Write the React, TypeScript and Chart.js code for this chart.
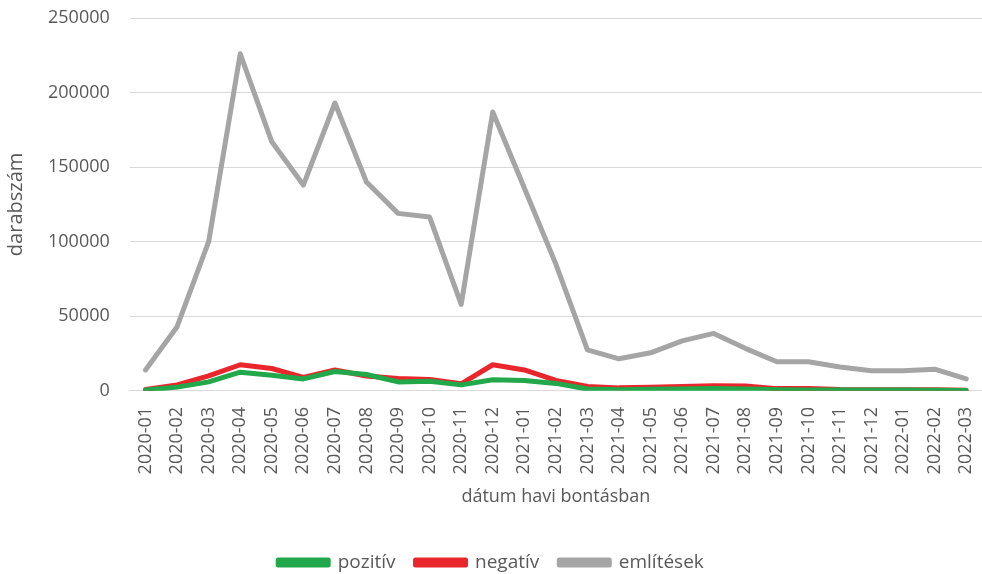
import React, { useEffect, useRef } from "react";
import { Chart, registerables } from "chart.js";

Chart.register(...registerables);

const categories = [
  "2020-01", "2020-02", "2020-03", "2020-04", "2020-05", "2020-06", "2020-07", "2020-08", "2020-09",
  "2020-10", "2020-11", "2020-12", "2021-01", "2021-02", "2021-03", "2021-04", "2021-05", "2021-06",
  "2021-07", "2021-08", "2021-09", "2021-10", "2021-11", "2021-12", "2022-01", "2022-02", "2022-03",
];

const pozitiv = [
  500, 2500, 6000, 12500, 10500, 8000, 13000, 11000, 6000, 6500, 4000, 7500, 7000, 5000,
  1200, 800, 1000, 1200, 1500, 1200, 700, 600, 500, 500, 500, 400, 300,
];

const negativ = [
  1000, 4000, 10000, 17500, 15000, 9000, 14000, 10000, 8300, 7600, 4700, 17500, 14000, 7000,
  3000, 2000, 2500, 3000, 3500, 3300, 1500, 1500, 900, 800, 800, 700, 400,
];

const emlitesek = [
  14000, 43000, 100000, 226000, 167000, 138000, 193000, 140000, 119000, 116500, 58000, 187000,
  136000, 85000, 27500, 21500, 25500, 33500, 38500, 28500, 19500, 19500, 16000, 13500, 13500,
  14500, 8000,
];

const yTicks = { min: 0, max: 250000, step: 50000 };

const FONT = "'Open Sans', 'Noto Sans', sans-serif";
const TEXT = "#595959";
const LABELS = ["pozit\u00edv", "negat\u00edv", "eml\u00edt\u00e9sek"];

export default function App() {
  const ref = useRef<HTMLCanvasElement | null>(null);

  useEffect(() => {
    document.body.style.margin = "0";
    const ctx = ref.current!.getContext("2d")!;
    const mk = (label: string, data: number[], color: string) => ({
      label,
      data,
      borderColor: color,
      backgroundColor: color,
      borderWidth: 5,
      pointRadius: 0,
      tension: 0,
      borderJoinStyle: "round" as const,
      borderCapStyle: "round" as const,
    });
    const chart = new Chart(ctx, {
      type: "line",
      data: {
        labels: categories,
        datasets: [
          mk(LABELS[2], emlitesek, "#a5a5a5"),
          mk(LABELS[0], pozitiv, "#22a84a"),
          mk(LABELS[1], negativ, "#e8262b"),
        ],
      },
      options: {
        animation: false,
        responsive: false,
        maintainAspectRatio: false,
        layout: { padding: { top: 0, right: 0, left: 0, bottom: -8 } },
        plugins: {
          legend: {
            position: "bottom",
            labels: {
              boxWidth: 50,
              boxHeight: 5,
              color: TEXT,
              font: { family: FONT, size: 19 },
              padding: 20,
              sort: (a: any, b: any) => LABELS.indexOf(a.text) - LABELS.indexOf(b.text),
            },
          },
          tooltip: { enabled: false },
        },
        scales: {
          x: {
            offset: true,
            grid: { display: false, drawTicks: false },
            border: { display: true, color: "#d9d9d9", width: 1 },
            afterFit: (s: any) => {
              s.paddingLeft = 0;
              s.paddingRight = 0;
            },
            ticks: {
              color: TEXT,
              font: { family: FONT, size: 18 },
              minRotation: 90,
              maxRotation: 90,
              autoSkip: false,
              padding: 16,
            },
            title: {
              display: true,
              text: "d\u00e1tum havi bont\u00e1sban",
              color: TEXT,
              font: { family: FONT, size: 18 },
              padding: { top: -4, bottom: 25 },
            },
          },
          y: {
            min: yTicks.min,
            max: yTicks.max,
            grid: { color: "#d9d9d9", drawTicks: false },
            border: { display: false },
            afterFit: (s: any) => {
              s.paddingTop = 18;
              s.paddingBottom = 0;
            },
            ticks: {
              stepSize: yTicks.step,
              color: TEXT,
              font: { family: FONT, size: 18 },
              padding: 20,
              callback: (v: any) => String(v),
            },
            title: {
              display: true,
              text: "darabsz\u00e1m",
              color: TEXT,
              font: { family: FONT, size: 20 },
              padding: { top: 4, bottom: 0 },
            },
          },
        },
      },
    });
    return () => chart.destroy();
  }, []);

  return (
    <div style={{ width: 982, height: 574 }}>
      <canvas ref={ref} width={982} height={574} style={{ width: 982, height: 574 }} />
    </div>
  );
}
